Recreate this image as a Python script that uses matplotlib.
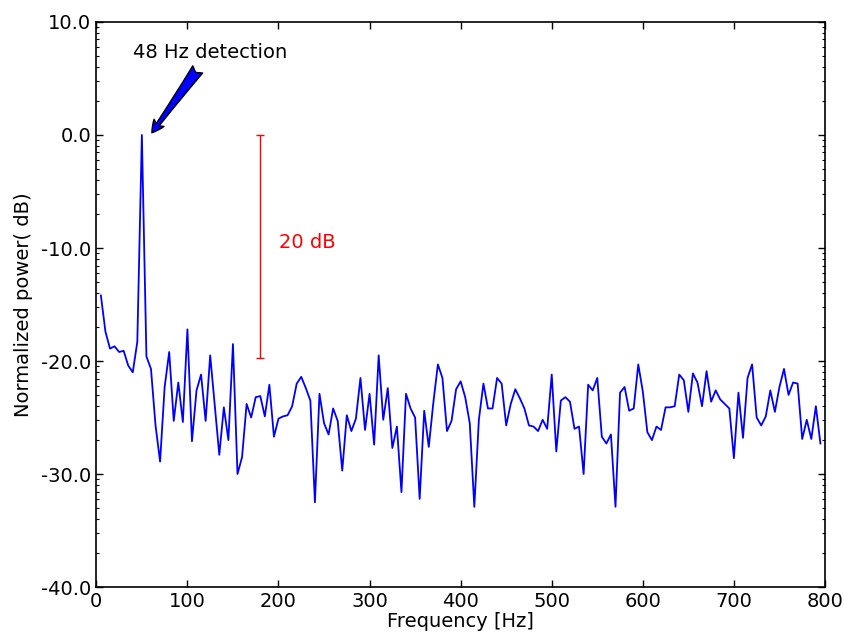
import matplotlib
matplotlib.use("Agg")
import matplotlib.pyplot as plt
import numpy as np
from matplotlib.ticker import FixedLocator, FormatStrFormatter, MultipleLocator

plt.rcParams['axes.unicode_minus'] = False

# -------------------------
# Data (5 Hz bins, 5..795 Hz)
# -------------------------
freq_step = 5
power_db = [
    -14.2, -17.4, -18.9, -18.7, -19.2, -19.1, -20.4, -21.0, -18.3, 0.0,
    -19.6, -20.7, -25.7, -28.9, -22.3, -19.2, -25.3, -21.9, -25.4, -17.2,
    -27.1, -22.6, -21.2, -25.3, -19.5, -23.9, -28.3, -24.1, -27.0, -18.5,
    -30.0, -28.5, -23.8, -25.0, -23.2, -23.1, -24.9, -22.1, -26.7, -25.1,
    -24.9, -24.8, -24.0, -22.0, -21.4, -22.4, -23.5, -32.5, -22.9, -25.5,
    -26.5, -24.2, -25.3, -29.7, -24.8, -26.2, -25.1, -21.5, -26.1, -22.9,
    -27.4, -19.5, -25.2, -22.4, -27.7, -25.8, -31.6, -22.9, -24.2, -25.0,
    -32.2, -24.4, -27.6, -23.7, -20.3, -21.5, -26.2, -25.3, -22.5, -21.8,
    -23.2, -25.5, -32.9, -25.2, -22.0, -24.2, -24.2, -21.5, -22.0, -25.7,
    -23.8, -22.5, -23.3, -24.2, -25.7, -25.8, -26.2, -25.2, -26.0, -21.2,
    -28.0, -23.5, -23.2, -23.6, -26.0, -25.8, -30.0, -22.1, -22.6, -21.5,
    -26.7, -27.3, -26.5, -32.9, -22.8, -22.3, -24.4, -24.2, -20.3, -22.7,
    -26.3, -27.0, -25.8, -26.1, -24.1, -24.1, -24.0, -21.2, -21.7, -24.5,
    -21.1, -21.9, -24.0, -20.9, -23.6, -22.6, -23.4, -23.8, -24.2, -28.6,
    -22.8, -26.8, -21.5, -20.3, -25.0, -25.7, -24.9, -22.6, -24.5, -22.3,
    -20.7, -23.0, -21.9, -22.0, -26.9, -25.2, -26.9, -24.0, -27.3,
]
freqs = np.arange(1, len(power_db) + 1) * freq_step

# 20 dB scale bar
bar_x = 180
bar_top = 0.0
bar_bottom = -19.7

# -------------------------
# Plot
# -------------------------
fig = plt.figure(figsize=(8.45, 6.41), dpi=100)
ax = fig.add_axes([0.114, 0.0842, 0.8623, 0.8815])

ax.plot(freqs, power_db, color='blue', lw=1.3)

mid = (bar_top + bar_bottom) / 2
ax.errorbar([bar_x], [mid], yerr=[(bar_top - bar_bottom) / 2], color='red',
            lw=1, capsize=3, capthick=1)
ax.text(201, -9.5, "20 dB", color='red', fontsize=14, ha='left', va='center')

ax.annotate("48 Hz detection", xy=(61, 0.2), xytext=(40, 6.8),
            fontsize=14, ha='left', va='baseline',
            arrowprops=dict(arrowstyle='fancy', fc='blue', ec='black',
                            mutation_scale=22, shrinkA=4, shrinkB=0, lw=1))

ax.set_xlim(0, 800)
ax.set_ylim(-40, 10)
ax.xaxis.set_major_locator(MultipleLocator(100))
ax.yaxis.set_major_locator(MultipleLocator(10))
ax.yaxis.set_major_formatter(FormatStrFormatter('%.1f'))

minor = [b + 10 * np.log10(m) for b in range(-40, 10, 10) for m in range(2, 10)]
ax.yaxis.set_minor_locator(FixedLocator(minor))

ax.tick_params(which='both', direction='in', top=True, right=True, labelsize=14)
ax.tick_params(which='major', length=5, width=1)
ax.tick_params(which='minor', length=2.5, width=0.8)
for s in ax.spines.values():
    s.set_linewidth(1.2)

ax.set_xlabel("Frequency [Hz]", fontsize=14, labelpad=1)
ax.set_ylabel("Normalized power( dB)", fontsize=14, labelpad=6)

fig.savefig("out.png", dpi=100)
